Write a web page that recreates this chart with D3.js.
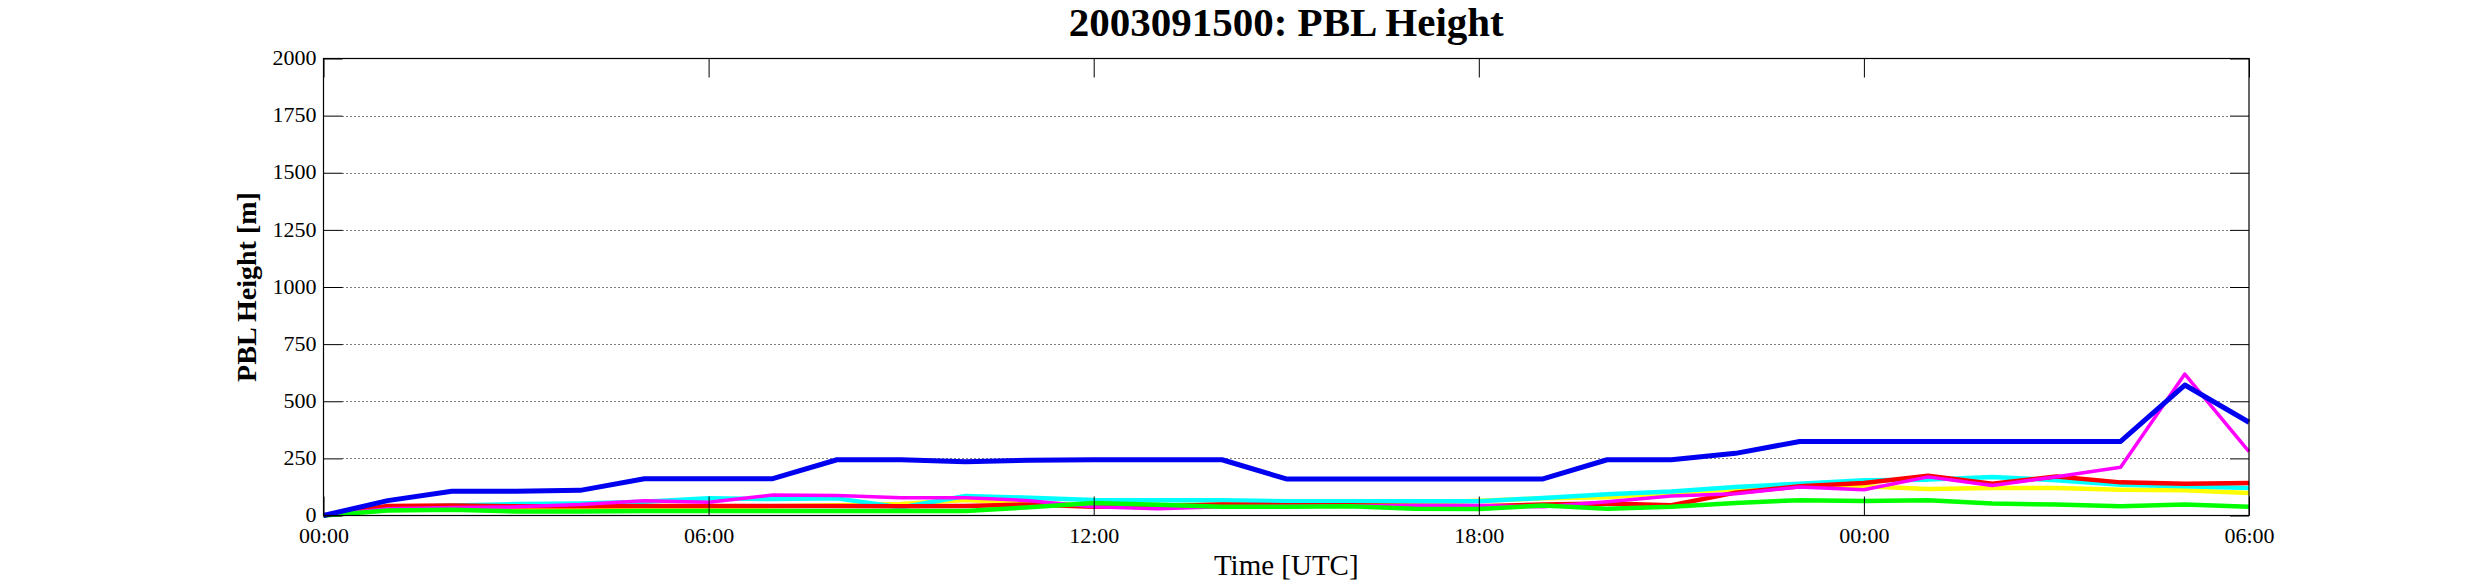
<!DOCTYPE html>
<html>
<head>
<meta charset="utf-8">
<script src="https://cdn.jsdelivr.net/npm/d3@7"></script>
<style>
  body { margin: 0; background: #fff; }
  text { font-family: "Liberation Serif", "Times New Roman", serif; fill: #000; }
</style>
</head>
<body>
<div id="chart"></div>
<script>
// hours since 2003-09-15 00 UTC
const hours = [0, 1, 2, 3, 4, 5, 6, 7, 8, 9, 10, 11, 12, 13, 14, 15,
  16, 17, 18, 19, 20, 21, 22, 23, 24, 25, 26, 27, 28, 29, 30];

// PBL height per station [m]
const yellowVals = [0, 30, 32, 32, 32, 35, 38, 40, 45, 50, 68, 55, 45, 45, 48, 48,
  50, 55, 65, 75, 80, 100, 115, 128, 128, 116, 120, 120, 113, 110, 99];
const cyanVals = [0, 35, 44, 50, 52, 60, 75, 72, 75, 35, 85, 78, 68, 67, 67, 62,
  62, 62, 62, 77, 93, 105, 125, 139, 154, 157, 169, 154, 135, 128, 120];
const redVals = [0, 42, 44, 40, 40, 42, 42, 42, 42, 40, 42, 48, 38, 40, 48, 45,
  45, 42, 40, 48, 52, 45, 100, 128, 142, 174, 139, 171, 145, 139, 142];
const magentaVals = [0, 30, 35, 38, 48, 65, 58, 90, 88, 78, 78, 65, 38, 30, 38, 40,
  42, 44, 44, 38, 60, 85, 95, 125, 113, 169, 131, 170, 211, 619, 280];
const greenVals = [0, 22, 25, 18, 18, 20, 20, 20, 20, 20, 20, 36, 55, 47, 38, 38,
  41, 30, 28, 44, 30, 38, 55, 67, 64, 67, 52, 48, 41, 48, 38];
const blueVals = [0, 65, 106, 106, 110, 161, 161, 161, 244, 244, 235, 242, 244, 244, 244, 160,
  160, 160, 160, 160, 244, 244, 272, 324, 324, 324, 324, 324, 324, 571, 408];

const xTicks = [0, 6, 12, 18, 24, 30];
const xTickLabels = ["00:00", "06:00", "12:00", "18:00", "00:00", "06:00"];
const yTicks = [0, 250, 500, 750, 1000, 1250, 1500, 1750, 2000];

(() => {
  const serif = "'Liberation Serif', 'Times New Roman', serif";
  const series = [
    { color: "#ffff00", values: yellowVals, w: 4.5 },
    { color: "#00ffff", values: cyanVals, w: 4.5 },
    { color: "#ff0000", values: redVals, w: 4.5 },
    { color: "#ff00ff", values: magentaVals, w: 3.5 },
    { color: "#00ff00", values: greenVals, w: 4.5 },
    { color: "#0000f0", values: blueVals, w: 5 }
  ];

  const width = 2485, height = 584;
  const plotL = 323.5, plotR = 2249, plotT = 58.5, plotB = 515.5;
  const tickLen = 19;

  const svg = d3.select("#chart").append("svg")
    .attr("width", width).attr("height", height);
  svg.append("rect").attr("width", width).attr("height", height).attr("fill", "#fff");

  const x = d3.scaleLinear().domain([0, 30]).range([plotL, plotR]);
  const y = d3.scaleLinear().domain([0, 2000]).range([plotB, plotT]);

  // dotted horizontal grid
  svg.append("g").selectAll("line")
    .data(yTicks.filter(d => d > 0 && d < 2000))
    .enter().append("line")
    .attr("x1", plotL + tickLen).attr("x2", plotR - tickLen)
    .attr("y1", d => Math.round(y(d)) + 0.5).attr("y2", d => Math.round(y(d)) + 0.5)
    .attr("stroke", "#000").attr("stroke-width", 1)
    .attr("stroke-dasharray", "1,3");

  // station lines
  const line = d3.line()
    .x((d, i) => x(hours[i]))
    .y(d => y(d));
  svg.append("g").selectAll("path")
    .data(series)
    .enter().append("path")
    .attr("d", d => line(d.values))
    .attr("fill", "none")
    .attr("stroke", d => d.color)
    .attr("stroke-width", d => d.w)
    .attr("stroke-linejoin", "round");

  // axes: bottom/left with labels, top/right ticks only
  const axes = svg.append("g");
  axes.append("g")
    .attr("transform", `translate(0,${plotB})`)
    .call(d3.axisBottom(x).tickValues(xTicks).tickSize(-tickLen).tickPadding(12)
      .tickFormat((d, i) => xTickLabels[i]));
  axes.append("g")
    .attr("transform", `translate(0,${plotT})`)
    .call(d3.axisTop(x).tickValues(xTicks).tickSize(-tickLen).tickFormat(""));
  const yAxisG = axes.append("g")
    .attr("transform", `translate(${plotL},0)`)
    .call(d3.axisLeft(y).tickValues(yTicks).tickSize(-tickLen).tickPadding(7)
      .tickFormat(d3.format("d")));
  axes.append("g")
    .attr("transform", `translate(${plotR},0)`)
    .call(d3.axisRight(y).tickValues(yTicks).tickSize(-tickLen).tickFormat(""));

  axes.selectAll("g").attr("font-family", serif).attr("font-size", 22);
  axes.selectAll(".domain").remove();
  axes.selectAll(".tick line").attr("stroke", "#000").attr("stroke-width", 1);
  axes.selectAll(".tick text")
    .style("font-family", serif)
    .style("font-size", "22px").attr("fill", "#000");
  yAxisG.selectAll(".tick text").attr("dy", "0.28em");

  // plot frame
  axes.append("rect")
    .attr("x", plotL).attr("y", plotT)
    .attr("width", plotR - plotL).attr("height", plotB - plotT)
    .attr("fill", "none").attr("stroke", "#000").attr("stroke-width", 1.2);

  // title and labels
  svg.append("text")
    .attr("x", (plotL + plotR) / 2).attr("y", 36)
    .attr("text-anchor", "middle")
    .style("font-size", "41px").style("font-weight", "bold")
    .text("2003091500: PBL Height");

  svg.append("text")
    .attr("x", (plotL + plotR) / 2).attr("y", 575)
    .attr("text-anchor", "middle")
    .style("font-size", "29px")
    .text("Time [UTC]");

  svg.append("text")
    .attr("transform", `translate(256,${(plotT + plotB) / 2}) rotate(-90)`)
    .attr("text-anchor", "middle")
    .style("font-size", "28px").style("font-weight", "bold")
    .text("PBL Height [m]");
})();
</script>
</body>
</html>
